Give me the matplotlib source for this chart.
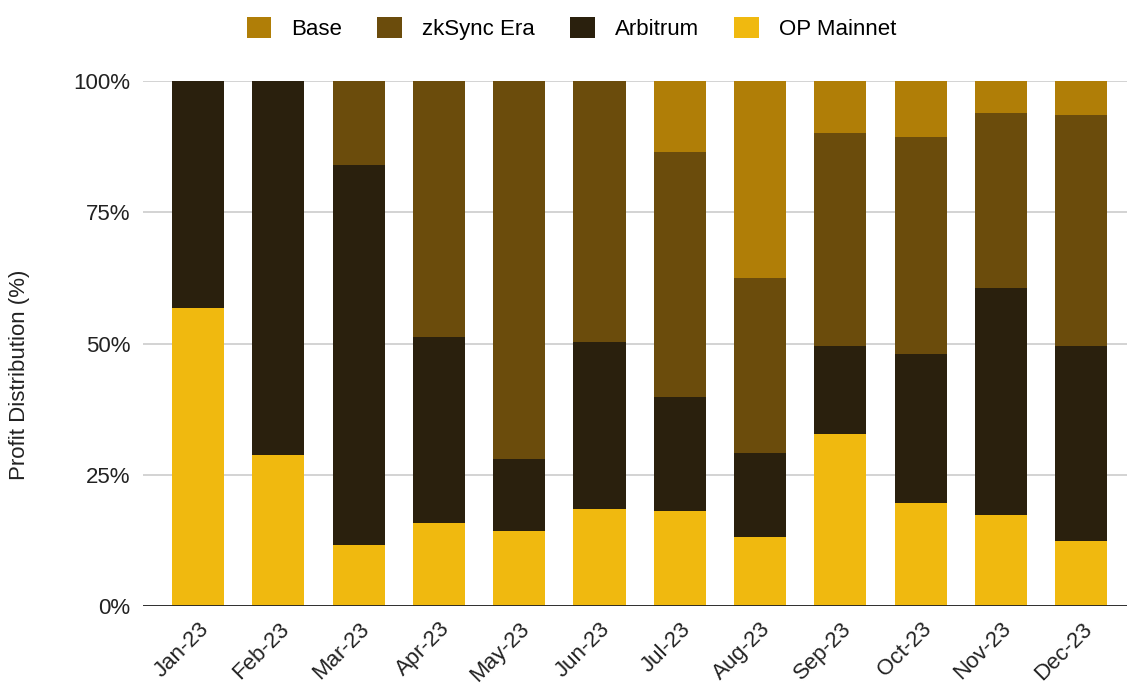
import numpy as np
import matplotlib.pyplot as plt
from matplotlib.ticker import PercentFormatter

plt.rcParams['font.family'] = ['Liberation Sans', 'DejaVu Sans']

months = ["Jan-23", "Feb-23", "Mar-23", "Apr-23", "May-23", "Jun-23",
          "Jul-23", "Aug-23", "Sep-23", "Oct-23", "Nov-23", "Dec-23"]

# shares in % (stacked bottom to top)
op_mainnet = [56.8, 28.8, 11.6, 15.8, 14.3, 18.5, 18.1, 13.1, 32.8, 19.6, 17.3, 12.4]
arbitrum = [43.2, 71.2, 72.4, 35.4, 13.7, 31.8, 21.7, 16.0, 16.7, 28.4, 43.3, 37.1]
zksync_era = [0.0, 0.0, 16.0, 48.8, 72.0, 49.7, 46.7, 33.4, 40.6, 41.3, 33.3, 44.0]
base = [0.0, 0.0, 0.0, 0.0, 0.0, 0.0, 13.5, 37.5, 9.9, 10.7, 6.1, 6.5]

series = [("OP Mainnet", op_mainnet, "#F0B90F"),
          ("Arbitrum", arbitrum, "#2A200D"),
          ("zkSync Era", zksync_era, "#6B4C0C"),
          ("Base", base, "#B07E07")]

fig = plt.figure(figsize=(11.27, 6.87), dpi=100)
ax = fig.add_axes([0.127, 0.118, 0.873, 0.764])

x = np.arange(len(months))
bottom = np.zeros(len(months))
handles = {}
for name, vals, color in series:
    vals = np.array(vals)
    b = ax.bar(x, vals, 0.65, bottom=bottom, color=color, label=name, zorder=3)
    handles[name] = b
    bottom += vals

ax.set_xlim(-0.685, 11.57)
ax.set_ylim(0, 100)
ax.set_yticks([0, 25, 50, 75, 100])
ax.yaxis.set_major_formatter(PercentFormatter(decimals=0))
ax.grid(axis='y', color='#CCCCCC', linewidth=1.2, zorder=0)
ax.axhline(0, color='#222222', linewidth=1.3, zorder=4)
for s in ax.spines.values():
    s.set_visible(False)
ax.tick_params(axis='both', length=0, labelsize=16, colors='#222222', pad=9)
ax.set_xticks(x)
ax.set_xticklabels(months, rotation=45, ha='right', rotation_mode='anchor')
ax.set_ylabel("Profit Distribution (%)", fontsize=16, color='#222222')
ax.yaxis.set_label_coords(-0.115, 0.44)

order = ["Base", "zkSync Era", "Arbitrum", "OP Mainnet"]
fig.legend([handles[n] for n in order], order, loc='upper center',
           bbox_to_anchor=(0.507, 1.005), ncol=4, frameon=False, fontsize=16,
           handlelength=1.1, handleheight=1.1, columnspacing=1.6, handletextpad=0.9)

fig.savefig("out.png", dpi=100)
